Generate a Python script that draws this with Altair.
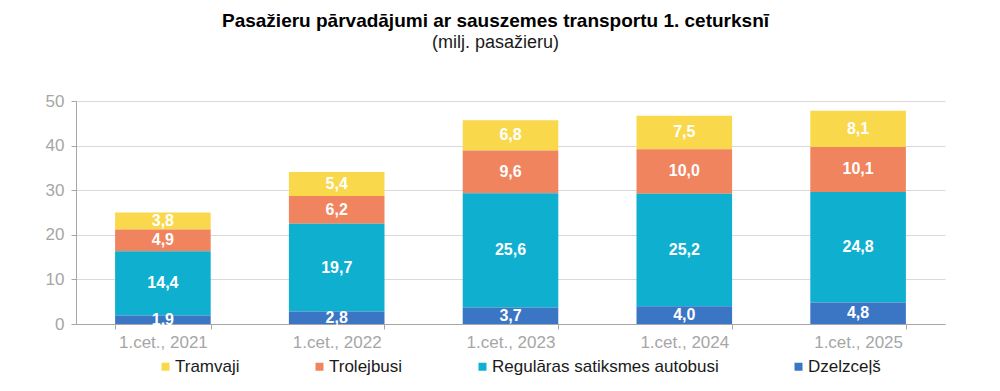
import altair as alt
import pandas as pd

periods = ["1.cet., 2021", "1.cet., 2022", "1.cet., 2023", "1.cet., 2024", "1.cet., 2025"]
series = ["Tramvaji", "Trolejbusi", "Regulāras satiksmes autobusi", "Dzelzceļš"]
colors = ["#F9D84C", "#F0845E", "#0FAFD0", "#3A76C4"]
stack_order = [3, 2, 1, 0]  # Dzelzceļš at bottom

tramvaji = [3.8, 5.4, 6.8, 7.5, 8.1]
trolejbusi = [4.9, 6.2, 9.6, 10.0, 10.1]
autobusi = [14.4, 19.7, 25.6, 25.2, 24.8]
dzelzcels = [1.9, 2.8, 3.7, 4.0, 4.8]

values = [tramvaji, trolejbusi, autobusi, dzelzcels]

rows = []
for s, o, vals in zip(series, stack_order, values):
    for p, v in zip(periods, vals):
        rows.append({"period": p, "series": s, "order": o, "value": v,
                     "label": f"{v:.1f}".replace(".", ",")})
df = pd.DataFrame(rows)

FONT = "Liberation Sans"

base = alt.Chart(df).transform_stack(
    stack="value", groupby=["period"], sort=[alt.SortField("order")], as_=["y0", "y1"]
).transform_calculate(mid="(datum.y0 + datum.y1) / 2")

x_enc = alt.X("period:N", sort=periods, title=None,
              scale=alt.Scale(paddingInner=0.45, paddingOuter=0.225),
              axis=alt.Axis(labelAngle=0, tickBand="extent", labelColor="#A6A6A6",
                            labelFontSize=17, labelFont=FONT, labelPadding=5,
                            domainColor="#A6A6A6", tickColor="#A6A6A6", tickSize=5,
                            grid=False))

bars = base.mark_bar().encode(
    x=x_enc,
    y=alt.Y("y0:Q", title=None, scale=alt.Scale(domain=[0, 50], nice=False),
            axis=alt.Axis(values=[0, 10, 20, 30, 40, 50], labelColor="#A6A6A6",
                          labelFontSize=17, labelFont=FONT, labelPadding=7,
                          domainColor="#A6A6A6", tickColor="#A6A6A6", tickSize=5,
                          gridColor="#D9D9D9", gridWidth=1)),
    y2="y1:Q",
    color=alt.Color("series:N", scale=alt.Scale(domain=series, range=colors),
                    legend=alt.Legend(title=None, orient="none", direction="horizontal",
                                      legendX=81, legendY=257, symbolType="square",
                                      symbolSize=64, symbolStrokeWidth=0,
                                      labelFontSize=17, labelFont=FONT, labelLimit=0,
                                      labelColor="#1A1A1A", columnPadding=71,
                                      labelOffset=1)),
)

texts = base.mark_text(color="white", fontWeight="bold", fontSize=16, font=FONT,
                       baseline="middle").encode(
    x=alt.X("period:N", sort=periods),
    y=alt.Y("mid:Q"),
    text="label:N",
)

chart = alt.layer(bars, texts).properties(
    width=869, height=223,
    autosize=alt.AutoSizeParams(type="none"),
    padding={"left": 68, "top": 93, "right": 47, "bottom": 54},
    title=alt.TitleParams(
        text="Pasažieru pārvadājumi ar sauszemes transportu 1. ceturksnī",
        subtitle="(milj. pasažieru)",
        font=FONT, fontSize=19, fontWeight="bold", color="#000000",
        subtitleFont=FONT, subtitleFontSize=18, subtitleColor="#1A1A1A",
        subtitlePadding=3, anchor="middle", dx=-15, offset=40,
    ),
).configure_view(stroke=None)

chart.save("out.html", embed_options={"renderer": "svg", "actions": False})
